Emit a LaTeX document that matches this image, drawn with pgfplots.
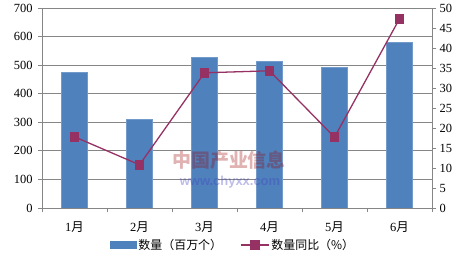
\documentclass[border=0pt]{standalone}
\usepackage{pgfplots}
\pgfplotsset{compat=1.18}
\usepackage{fontspec}
\setmainfont{Liberation Serif}
\newfontfamily\cjk{Noto Sans CJK SC}
\newfontfamily\wsans{Liberation Sans}
\definecolor{barblue}{HTML}{4F81BD}
\definecolor{linered}{HTML}{953163}
\definecolor{gridgray}{HTML}{868686}
\begin{document}
\begin{tikzpicture}[x=1bp,y=1bp]
\begin{axis}[
  name=ax1,
  at={(0,0)}, anchor=south west,
  scale only axis, width=390bp, height=200bp,
  xmin=-0.5, xmax=5.5, ymin=0, ymax=700,
  ytick={0,100,...,700},
  xtick={0,...,5},
  xticklabels={{1{\cjk 月}},{2{\cjk 月}},{3{\cjk 月}},{4{\cjk 月}},{5{\cjk 月}},{6{\cjk 月}}},
  minor xtick={-0.5,0.5,...,5.5},
  major x tick style={draw=none},
  minor tick length=4bp,
  major tick length=4bp,
  tick align=outside,
  xtick pos=bottom, ytick pos=left,
  ymajorgrids,
  grid style={gridgray, line width=0.8pt},
  axis line style={gridgray, line width=0.8pt},
  tick style={gridgray, line width=0.8pt},
  axis x line*=bottom,
  axis y line*=left,
  every tick label/.style={font=\fontsize{12.5}{14}\selectfont, black},
  xticklabel style={yshift=-6bp},
  yticklabel style={xshift=-2bp},
  /pgf/number format/assume math mode=true,
  ybar, bar width=26bp,
]
\addplot[fill=barblue, draw=barblue!80!white] coordinates {(0,476) (1,311) (2,528) (3,514) (4,493) (5,581)};
\end{axis}
\node[text=red!60!black, opacity=0.3, font=\cjk\fontsize{19}{20}\selectfont\bfseries] at (187bp,48bp) {中国产业信息};
\node[text=blue!50!gray, opacity=0.35, font=\wsans\fontsize{13}{14}\selectfont\bfseries] at (188bp,26bp) {www.chyxx.com};
\begin{axis}[
  at={(0,0)}, anchor=south west,
  scale only axis, width=390bp, height=200bp,
  xmin=-0.5, xmax=5.5, ymin=0, ymax=50,
  ytick={0,5,...,50},
  axis x line=none,
  axis y line*=right,
  ytick pos=right,
  tick align=outside,
  major tick length=4bp,
  axis line style={gridgray, line width=0.8pt},
  tick style={gridgray, line width=0.8pt},
  every tick label/.style={font=\fontsize{12.5}{14}\selectfont, black},
  yticklabel style={xshift=0bp},
  /pgf/number format/assume math mode=true,
  legend style={at={(0.49,-0.185)}, anchor=center, draw=none, fill=none,
    legend columns=2, font=\cjk\fontsize{12}{14}\selectfont,
    /tikz/every even column/.append style={column sep=16bp}},
  legend image code/.code={\draw[#1] (0bp,0bp) -- (28bp,0bp); \draw[#1, mark repeat=1] plot coordinates {(14bp,0bp)};},
]
\addlegendimage{legend image code/.code={\fill[barblue] (0bp,-3.5bp) rectangle (26bp,3.5bp);}}
\addlegendentry{数量（百万个）}
\addplot[linered, line width=1.3pt, mark=square*, mark size=4.2bp, mark options={fill=linered, draw=linered}] coordinates {(0,17.8) (1,10.8) (2,33.8) (3,34.3) (4,17.7) (5,47.3)};
\addlegendentry{数量同比（\%）}
\end{axis}
\pgfresetboundingbox
\path[use as bounding box] (-42bp,-53bp) rectangle (416bp,208bp);
\end{tikzpicture}
\end{document}
